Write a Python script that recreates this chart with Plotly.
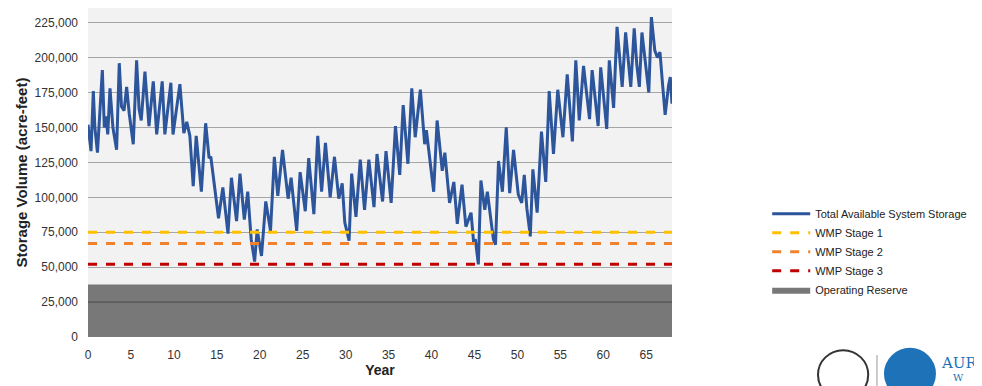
import plotly.graph_objects as go

# ---- data ----
years = [0.0, 0.35, 0.62, 0.8, 1.1, 1.67, 1.9, 2.1, 2.3, 2.56, 2.9, 3.33, 3.64, 3.9, 4.2, 4.5, 4.8, 5.27,
         5.66, 5.95, 6.2, 6.63, 7.1, 7.6, 8.0, 8.64, 8.95, 9.65, 9.9, 10.7, 11.16, 11.5, 11.86, 12.25, 12.6,
         13.2, 13.7, 14.1, 14.3, 14.6, 15.2, 15.7, 16.3, 16.7, 17.3, 17.7, 18.2, 18.6, 19.0, 19.4, 19.7,
         20.2, 20.7, 21.25, 21.7, 22.1, 22.65, 23.3, 23.65, 24.3, 24.7, 25.3, 25.7, 26.3, 26.75, 27.2,
         27.65, 28.2, 28.7, 29.2, 29.6, 29.9, 30.4, 30.7, 31.2, 31.7, 32.2, 32.7, 33.3, 33.65, 34.3, 34.7,
         35.3, 35.8, 36.3, 36.7, 37.25, 37.7, 38.1, 38.7, 39.2, 39.4, 39.6, 40.25, 40.65, 41.25, 41.55,
         42.1, 42.6, 43.0, 43.55, 44.0, 44.6, 44.9, 45.1, 45.45, 45.75, 46.2, 46.5, 47.2, 47.45, 47.8,
         48.25, 48.7, 49.1, 49.55, 50.1, 50.5, 50.8, 51.1, 51.5, 51.8, 52.3, 52.8, 53.3, 53.7, 54.2, 54.7,
         55.3, 55.8, 56.4, 56.8, 57.2, 57.7, 58.4, 58.7, 59.4, 59.7, 60.4, 60.7, 61.2, 61.6, 62.2, 62.6,
         63.2, 63.6, 63.9, 64.2, 64.5, 65.3, 65.6, 66.0, 66.3, 66.6, 66.9, 67.2, 67.6, 67.8, 68.0]
storage = [152000, 133000, 176000, 150000, 132000, 191000, 150000, 158000, 145000, 178000, 150000, 134000,
           196000, 165000, 162000, 179000, 160000, 138000, 198000, 163000, 155000, 190000, 151000, 183000,
           145000, 183000, 145000, 182000, 145000, 181000, 146000, 154000, 144000, 108000, 144000, 104000,
           153000, 128000, 129000, 115000, 85000, 107000, 74000, 114000, 83000, 117000, 84000, 104000,
           70000, 54000, 77000, 58000, 97000, 76000, 129000, 101000, 134000, 99000, 114000, 76000, 118000,
           90000, 128000, 88000, 144000, 104000, 139000, 100000, 129000, 99000, 110000, 82000, 69000,
           117000, 86000, 127000, 91000, 127000, 93000, 131000, 97000, 133000, 96000, 151000, 116000,
           166000, 124000, 178000, 143000, 177000, 138000, 148000, 138000, 104000, 155000, 119000, 132000,
           96000, 111000, 81000, 109000, 79000, 89000, 68000, 70000, 52000, 112000, 91000, 104000, 70000,
           66000, 126000, 104000, 150000, 103000, 134000, 102000, 96000, 116000, 92000, 72000, 120000,
           89000, 147000, 111000, 176000, 131000, 177000, 143000, 188000, 140000, 198000, 155000, 194000,
           156000, 191000, 151000, 193000, 149000, 198000, 164000, 222000, 179000, 218000, 179000, 221000,
           195000, 179000, 218000, 175000, 229000, 205000, 200000, 204000, 181000, 159000, 180000, 186000,
           167000]

span = [0, 68]
stage1 = 75000
stage2 = 67000
stage3 = 52000
operating_reserve = 37500

x_ticks = list(range(0, 66, 5))
y_ticks = list(range(0, 225001, 25000))

fig = go.Figure()

fig.add_trace(go.Scatter(x=span, y=[operating_reserve] * 2, mode="lines", fill="tozeroy",
                         fillcolor="#787878", line=dict(color="#787878", width=0),
                         name="Operating Reserve", legendrank=5))
fig.add_trace(go.Scatter(x=years, y=storage, mode="lines", name="Total Available System Storage",
                         line=dict(color="#2C559C", width=3), legendrank=1))
fig.add_trace(go.Scatter(x=span, y=[stage1] * 2, mode="lines", name="WMP Stage 1",
                         line=dict(color="#FFC000", width=3, dash="dash"), legendrank=2))
fig.add_trace(go.Scatter(x=span, y=[stage2] * 2, mode="lines", name="WMP Stage 2",
                         line=dict(color="#F0822E", width=3, dash="dash"), legendrank=3))
fig.add_trace(go.Scatter(x=span, y=[stage3] * 2, mode="lines", name="WMP Stage 3",
                         line=dict(color="#C00000", width=3, dash="dash"), legendrank=4))

# grid line visible through operating reserve
fig.add_shape(type="line", xref="x", yref="y", x0=span[0], x1=span[1], y0=25000, y1=25000,
              line=dict(color="#4A4A4A", width=1), layer="above")

# partial logo at bottom right
fig.add_shape(type="circle", xref="paper", yref="paper", x0=1.25, x1=1.336, y0=-0.19, y1=-0.04,
              line=dict(color="#333333", width=2), fillcolor="white")
fig.add_shape(type="line", xref="paper", yref="paper", x0=1.351, x1=1.351, y0=-0.149, y1=-0.055,
              line=dict(color="#999999", width=1))
fig.add_shape(type="circle", xref="paper", yref="paper", x0=1.363, x1=1.452, y0=-0.19, y1=-0.033,
              line=dict(color="#1D72B8", width=0), fillcolor="#1D72B8")
fig.add_annotation(x=1.457, y=-0.045, xref="paper", yref="paper", text="AUR", showarrow=False,
                   xanchor="left", yanchor="top", font=dict(family="DejaVu Serif", size=15, color="#1D72B8"))
fig.add_annotation(x=1.478, y=-0.1, xref="paper", yref="paper", text="W", showarrow=False,
                   xanchor="left", yanchor="top", font=dict(family="DejaVu Serif", size=10, color="#1D72B8"))

fig.update_layout(
    width=974, height=378,
    margin=dict(l=80, r=310, t=0, b=49),
    paper_bgcolor="white", plot_bgcolor="#F2F2F2",
    font=dict(family="Liberation Sans, Arial, sans-serif", color="#333333", size=12),
    showlegend=True,
    legend=dict(x=1.163, y=0.419, xanchor="left", yanchor="top", bgcolor="rgba(0,0,0,0)",
                font=dict(size=11, color="#222222"), tracegroupgap=0, itemwidth=38),
)
fig.update_xaxes(range=span, tickvals=x_ticks, showgrid=False, zeroline=False, showline=False,
                 ticks="", tickfont=dict(size=12), ticklabelstandoff=9,
                 title=dict(text="<b>Year</b>", font=dict(size=14, color="#222222"), standoff=4))
fig.update_yaxes(range=[0, 235500], tickvals=y_ticks, tickformat=",d", showgrid=True,
                 gridcolor="#A6A6A6", gridwidth=1, zeroline=False, showline=False, ticks="",
                 tickfont=dict(size=12), ticklabelstandoff=9,
                 title=dict(text="<b>Storage Volume (acre-feet)</b>", font=dict(size=15, color="#222222"),
                            standoff=3))

fig.write_html("out.html")
